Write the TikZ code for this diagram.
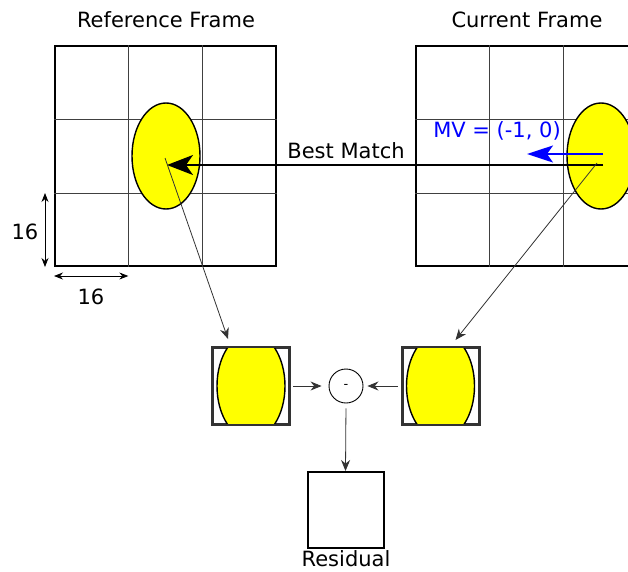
\documentclass[tikz,border=0pt]{standalone}
\usepackage{fontspec}
\setmainfont{DejaVu Sans}
\usetikzlibrary{calc,shapes.geometric,arrows.meta}

\definecolor{blobyellow}{RGB}{255,255,0}
\definecolor{mvblue}{RGB}{0,0,255}

\begin{document}
\begin{tikzpicture}[x=1pt, y=-1pt, line width=1pt,
  every node/.style={align=center, font=\fontsize{21}{24}\selectfont},
  frame/.style={draw, line width=2pt, minimum width=221pt, minimum height=220pt, inner sep=0pt},
  blob/.style={draw, fill=blobyellow, ellipse, line width=1.4pt, minimum width=68pt, minimum height=106pt, inner sep=0pt},
  block/.style={draw=black!80, line width=2pt, minimum size=76pt, inner sep=0pt},
  thinarrow/.style={-{Stealth[length=11pt,width=9pt]}, line width=0.8pt, black!80},
  dimarrow/.style={{Stealth[length=9pt,width=7pt]}-{Stealth[length=9pt,width=7pt]}, line width=0.8pt}]

  \clip (0,0) rectangle (628,571);

  % --- Parameter ---
  \def\blobrx{34pt}   % halbe Breite des Objekts
  \def\blobry{53pt}   % halbe Hoehe des Objekts
  \def\dimgap{9}      % Abstand der Massangaben

  % --- Frames mit 3x3 Raster ---
  \node[frame] (refframe) at (165.5,156) {};
  \node[frame] (curframe) at (526.5,156) {};
  \foreach \f in {refframe,curframe} {
    \foreach \k in {1,2} {
      \draw[black!75, line width=0.9pt] ($(\f.north west)!\k/3!(\f.north east)$) -- ($(\f.south west)!\k/3!(\f.south east)$);
      \draw[black!75, line width=0.9pt] ($(\f.north west)!\k/3!(\f.south west)$) -- ($(\f.north east)!\k/3!(\f.south east)$);
    }
  }

  % --- Titel ---
  \node (reftitle) at (166,20) {Reference Frame};
  \node (curtitle) at (527,20) {Current Frame};

  % --- Objekte ---
  \node[blob] (refblob) at (166,156) {};
  \node[blob] (curblob) at (601,156) {};

  % --- Best Match und Bewegungsvektor ---
  \draw[line width=2pt, -{Stealth[length=26pt,width=20pt,inset=7pt]}] ($(curblob.center)+(2,9)$) -- ($(refblob.center)+(1,9)$);
  \node (bestlbl) at (346,151) {Best Match};

  \coordinate (mvtip) at (527,154);
  \draw[mvblue, line width=2.2pt, -{Stealth[length=26pt,width=17pt,inset=6pt]}] ($(curblob.center)+(2,-2)$) -- (mvtip);
  \node[text=mvblue] (mvlbl) at (497,131) {MV = (-1, 0)};

  % --- Massangaben ---
  \draw[dimarrow] ($(refframe.south west)+(-\dimgap,0)$) -- ($(refframe.south west)!1/3!(refframe.north west)+(-\dimgap,0)$);
  \draw[dimarrow] ($(refframe.south west)+(0,\dimgap)$) -- ($(refframe.south west)!1/3!(refframe.south east)+(0,\dimgap)$);
  \node (dimv) at (25,232) {16};
  \node (dimh) at (91,297) {16};

  % --- Bloecke ---
  \node[block] (predblk) at (251,386) {};
  \node[block] (curblk)  at (440.5,386) {};
  \foreach \b in {predblk,curblk} {
    \begin{scope}
      \clip (\b.south west) rectangle (\b.north east);
      \draw[fill=blobyellow, line width=1.4pt] (\b.center) ellipse [x radius=\blobrx, y radius=\blobry];
    \end{scope}
    \draw[black!80, line width=2pt] (\b.south west) rectangle (\b.north east);
  }

  \node[circle, draw, line width=0.9pt, minimum size=34pt, inner sep=0pt, font=\fontsize{13}{15}\selectfont] (diff) at (346,386) {-};
  \node[block, draw=black] (residual) at (345.5,510) {};
  \node[anchor=base, inner sep=0pt] (reslbl) at (346,566) {Residual};

  % --- Verbindungen ---
  \draw[thinarrow] ($(refblob.center)+(-1,2)$) -- ($(predblk.north)+(-23,-8)$);
  \draw[thinarrow] ($(curblob.center)+(-4,7)$) -- ($(curblk.north)+(15,-7)$);
  \draw[thinarrow, shorten <=3pt, shorten >=7pt] (predblk.east) -- (diff.west);
  \draw[thinarrow, shorten <=4pt, shorten >=4pt] (curblk.west) -- (diff.east);
  \draw[thinarrow, shorten <=5pt] (diff.south) -- (residual.north);

\end{tikzpicture}
\end{document}
